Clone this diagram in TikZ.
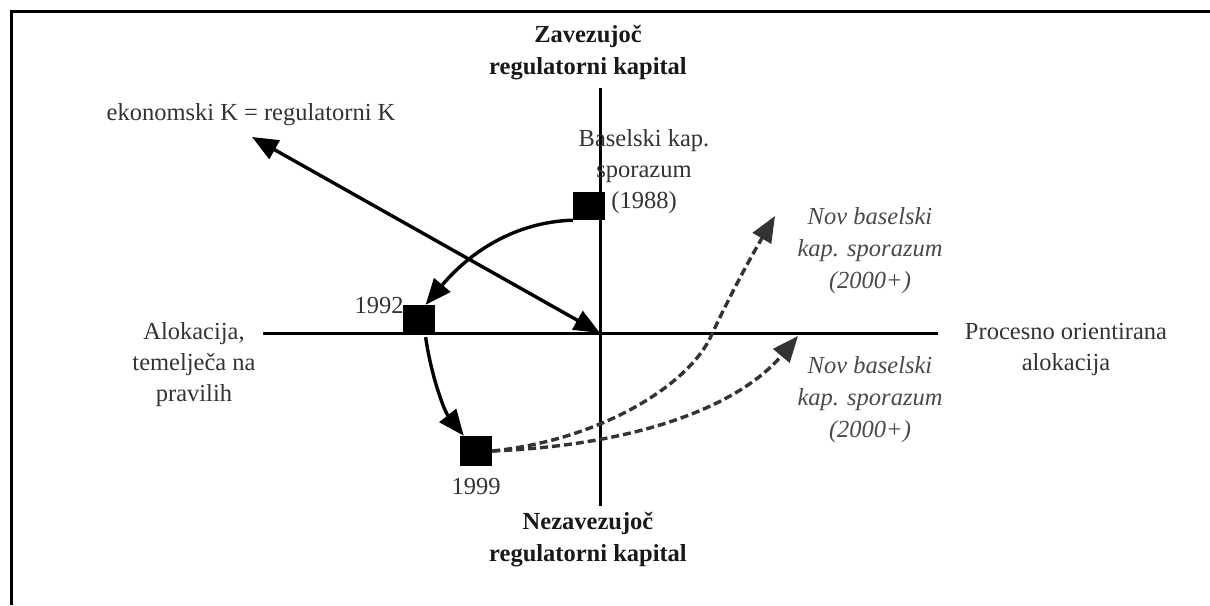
\documentclass[tikz,border=0pt]{standalone}
\usepackage{fontspec}
\setmainfont{Liberation Serif}
\usetikzlibrary{arrows.meta}
\definecolor{txt}{HTML}{333333}
\definecolor{itx}{HTML}{4A4A4A}
\definecolor{dsh}{HTML}{333333}
\begin{document}
\begin{tikzpicture}[x=1pt,y=-1pt,
  lbl/.style={font=\fontsize{24.5}{31}\selectfont, text=txt, align=center, inner sep=0pt},
  bold/.style={lbl, font=\fontsize{24.5}{32}\selectfont\bfseries, text=black!90},
  ital/.style={lbl, font=\fontsize{24.5}{32}\selectfont\itshape, text=itx},
  sq/.style={fill=black, draw=none, minimum width=32pt, minimum height=28pt, inner sep=0pt},
  axisline/.style={line width=3pt, black},
  sol/.style={line width=3.4pt, black, -{Triangle[length=26pt,width=21pt]}},
  dsharr/.style={line width=3.4pt, dsh, dash pattern=on 8pt off 4pt, -{Triangle[length=26pt,width=21pt]}}]
\useasboundingbox (0,0) rectangle (1210,605);
\fill[white] (0,0) rectangle (1210,605);
% frame
\draw[line width=3pt] (11.5,605) -- (11.5,11.5) -- (1210,11.5);
% coordinates
\coordinate (vT) at (600,88);
\coordinate (vB) at (600,506);
\coordinate (hL) at (263,333);
\coordinate (hR) at (938,333);
\coordinate (O) at (600,333);
\coordinate (ekTip) at (252,137);
\coordinate (tA) at (775,216);
\coordinate (tB) at (798,336);
% axes
\draw[axisline] (vT) -- (vB);
\draw[axisline] (hL) -- (hR);
% labels
\node[bold] (zt) at (588,53) {Zavezujoč\\regulatorni kapital};
\node[bold] (zb) at (588,540) {Nezavezujoč\\regulatorni kapital};
\node[lbl] (ek) at (251,115) {ekonomski K = regulatorni K};
\node[lbl] (bas) at (644,172) {Baselski kap.\\sporazum\\(1988)};
\node[lbl] (y92) at (379,306) {1992};
\node[lbl] (y99) at (476,487) {1999};
\node[lbl] (alok) at (194,365) {Alokacija,\\temelječa na\\pravilih};
\node[lbl] (proc) at (1066,349) {Procesno orientirana\\alokacija};
\node[ital] (nov1) at (870,251) {Nov baselski\\kap. sporazum\\(2000+)};
\node[ital] (nov2) at (870,400) {Nov baselski\\kap. sporazum\\(2000+)};
% squares
\node[sq] (s88) at (589,206) {};
\node[sq] (s92) at (419,319) {};
\node[sq, minimum height=30pt] (s99) at (476,451) {};
% connectors
\draw[line width=3.4pt, {Triangle[length=26pt,width=21pt]}-{Triangle[length=26pt,width=21pt]}] (ekTip) -- (O);
\draw[sol] (s88.south west) .. controls (515,222) and (470,252) .. (s92.65);
\draw[sol] ([yshift=-4pt]s92.-65) .. controls (432,380) and (445,412) .. ([xshift=4pt]s99.north west);
\draw[dsharr] (s99.east) .. controls (600,440) and (690,385) .. (712,334) .. controls (735,285) and (755,250) .. (tA);
\draw[dsharr] (s99.east) .. controls (640,445) and (740,405) .. (tB);
\end{tikzpicture}
\end{document}
